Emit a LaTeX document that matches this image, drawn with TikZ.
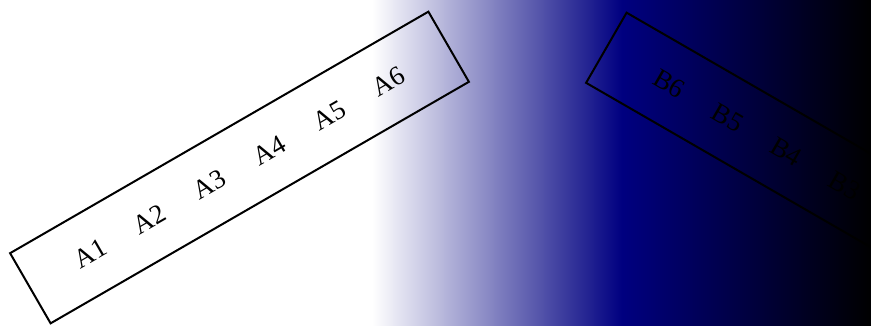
\documentclass[tikz,border=0pt]{standalone}
\usepackage{fontspec}
\setmainfont{Liberation Serif}
\usetikzlibrary{positioning}
\definecolor{marinho}{HTML}{000080}
% faixa 25bp--75bp cobre a largura do fundo
\pgfdeclarehorizontalshading{fundo}{100bp}{color(0bp)=(white); color(46.35bp)=(white); color(60.7bp)=(marinho); color(75bp)=(black); color(100bp)=(black)}
\tikzset{
  caixa/.style={draw=black, line width=2pt, minimum width=483pt, minimum height=81pt,
    inner sep=0pt},
}
\newcommand{\vao}{\hspace{36pt}}
\newcommand{\letra}{\fontsize{27pt}{32pt}\selectfont}

\begin{document}
\begin{tikzpicture}[x=1pt, y=1pt]
\useasboundingbox (0,0) rectangle (871,325);
\clip (0,0) rectangle (871,325);
\shade[shading=fundo] (0,0) rectangle (871,325);
\node[caixa, rotate=30] (caixaA) at (239.5,157.5) {\letra A1\vao A2\vao A3\vao A4\vao A5\vao A6};
\node[caixa, rotate=-30] (caixaB) at (815.5,156.5) {\letra B6\vao B5\vao B4\vao B3\vao B2\vao B1};
\end{tikzpicture}
\end{document}
